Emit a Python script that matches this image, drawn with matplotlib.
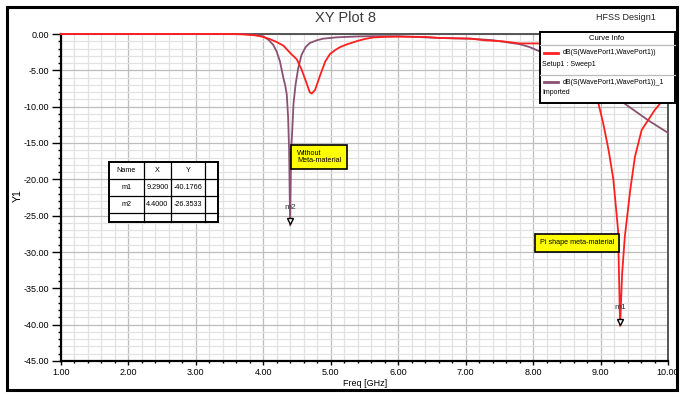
import matplotlib
matplotlib.use('Agg')
import matplotlib.pyplot as plt
from matplotlib.patches import Rectangle
from matplotlib.lines import Line2D
from matplotlib.ticker import MultipleLocator

plt.rcParams['font.family'] = ['Liberation Sans Narrow', 'Liberation Sans', 'DejaVu Sans']

# ---------------- data ----------------
red_freq = [1.0, 2.0, 3.0, 3.5, 3.7, 3.9, 4.0, 4.1, 4.2, 4.3, 4.4, 4.5, 4.57, 4.63,
            4.69, 4.72, 4.77, 4.84, 4.92, 4.99, 5.07, 5.14, 5.22, 5.3, 5.4, 5.5,
            5.63, 5.8, 6.0, 6.4, 6.62, 7.07, 7.29, 7.54, 7.8, 8.1, 8.4, 8.65, 8.82,
            8.97, 9.04, 9.12, 9.19, 9.26, 9.29, 9.32, 9.36, 9.44, 9.51, 9.61, 9.71,
            9.8, 9.88, 9.95, 10.0]
red_db = [0.0, 0.0, 0.0, 0.0, -0.05, -0.2, -0.4, -0.7, -1.1, -1.6, -2.6, -3.5, -4.9, -6.4,
          -8.0, -8.2, -7.7, -5.8, -3.8, -2.75, -2.2, -1.8, -1.5, -1.25, -0.95, -0.7,
          -0.48, -0.4, -0.37, -0.4, -0.55, -0.64, -0.87, -1.0, -1.3, -1.3, -1.9, -3.2, -5.5,
          -9.6, -12.3, -16.0, -20.0, -27.0, -40.18, -33.0, -27.9, -21.5, -16.9, -13.2, -11.8,
          -10.5, -9.6, -8.8, -8.3]

pur_freq = [1.0, 3.0, 3.7, 3.85, 4.0, 4.08, 4.15, 4.2, 4.25, 4.3, 4.33, 4.35, 4.37,
            4.385, 4.40, 4.415, 4.43, 4.45, 4.48, 4.52, 4.57, 4.63, 4.69, 4.8, 4.89,
            5.09, 5.39, 5.63, 6.0, 6.62, 7.07, 7.4, 7.8, 7.95, 8.1, 8.3, 8.6, 8.9, 9.1,
            9.36, 9.71, 10.0]
pur_db = [0.0, 0.0, 0.0, -0.1, -0.32, -0.8, -1.5, -2.4, -3.8, -6.05, -7.2, -8.3, -11.4,
          -16.0, -26.35, -16.0, -13.6, -9.6, -7.0, -4.7, -2.85, -1.8, -1.24, -0.85, -0.64,
          -0.46, -0.34, -0.3, -0.3, -0.55, -0.64, -0.85, -1.4, -1.8, -2.4, -3.0, -4.6, -6.6,
          -8.0, -9.6, -11.9, -13.6]

x_ticks = [1, 2, 3, 4, 5, 6, 7, 8, 9, 10]
x_labels = ['1.00', '2.00', '3.00', '4.00', '5.00', '6.00', '7.00', '8.00', '9.00', '10.00']
y_ticks = [0, -5, -10, -15, -20, -25, -30, -35, -40, -45]
y_labels = ['0.00', '-5.00', '-10.00', '-15.00', '-20.00', '-25.00', '-30.00', '-35.00',
            '-40.00', '-45.00']

marker_names = ['m1', 'm2']
marker_x = [9.29, 4.40]
marker_y = [-40.1766, -26.3533]
marker_x_txt = ['9.2900', '4.4000']
marker_y_txt = ['-40.1766', '-26.3533']

legend_names = ['dB(S(WavePort1,WavePort1))', 'dB(S(WavePort1,WavePort1))_1']
legend_subs = ['Setup1 : Sweep1', 'Imported']

RED = '#ff1f1f'
PUR = '#8a5272'

W, H = 681, 394
def fx(p): return p / W
def fy(p): return 1 - p / H

fig = plt.figure(figsize=(6.81, 3.94), dpi=100)
fig.patch.set_facecolor('white')

ax = fig.add_axes([fx(60.7), fy(361), fx(668) - fx(60.7), fy(34) - fy(361)])
ax.set_xlim(1, 10)
ax.set_ylim(-45, 0)

ax.xaxis.set_minor_locator(MultipleLocator(0.2))
ax.yaxis.set_minor_locator(MultipleLocator(1))
ax.set_xticks(x_ticks)
ax.set_xticklabels(x_labels)
ax.set_yticks(y_ticks)
ax.set_yticklabels(y_labels)
ax.grid(which='major', color='#bdbdbd', lw=0.9)
ax.grid(which='minor', color='#e2e2e2', lw=0.9)
ax.set_axisbelow(True)

ax.tick_params(axis='y', which='major', length=6.5, width=1, direction='out', labelsize=6.5, pad=2)
ax.tick_params(axis='y', which='minor', length=2.5, width=1, direction='out')
ax.tick_params(axis='x', which='major', length=3, width=1, direction='out', labelsize=6.5, pad=2)
ax.tick_params(axis='x', which='minor', length=1.5, width=1, direction='out')

for s in ['left', 'bottom']:
    ax.spines[s].set_linewidth(1.6)
    ax.spines[s].set_color('black')
for s in ['top', 'right']:
    ax.spines[s].set_linewidth(1.4)
    ax.spines[s].set_color('#555555')

ax.plot(red_freq, red_db, color=RED, lw=1.3, clip_on=False, zorder=5)
ax.plot(pur_freq, pur_db, color=PUR, lw=1.3, clip_on=False, zorder=4)

# markers
for n, mx, my in zip(marker_names, marker_x, marker_y):
    ax.plot([mx], [my + 0.6], marker='v', ms=4.5, mfc='white', mec='black', mew=1.0,
            zorder=6, clip_on=False)
    ax.text(mx, my + 2.0, n, fontsize=6, ha='center', va='bottom', color='#333333',
            zorder=7)

# title texts
fig.text(fx(345), fy(18), 'XY Plot 8', ha='center', va='center', fontsize=10.5, color='#3a3a3a')
fig.text(fx(656), fy(18), 'HFSS Design1', ha='right', va='center', fontsize=6.5, color='#222222')
fig.text(fx(18), fy(196), 'Y1', rotation=90, ha='center', va='center', fontsize=7.5)
fig.text(fx(365), fy(383), 'Freq [GHz]', ha='center', va='center', fontsize=6.5)

# outer frame
fig.add_artist(Rectangle((fx(7), fy(390)), fx(677) - fx(7), fy(7) - fy(390),
                         transform=fig.transFigure, fill=False, lw=2.2, ec='black'))

# marker table
tx = [109, 144, 171, 205, 218]
ty = [162, 179, 196, 213, 222]
fig.add_artist(Rectangle((fx(tx[0]), fy(ty[-1])), fx(tx[-1]) - fx(tx[0]), fy(ty[0]) - fy(ty[-1]),
                         transform=fig.transFigure, fc='white', ec='black', lw=1.4, zorder=3))
for x in tx[1:-1]:
    fig.add_artist(Line2D([fx(x), fx(x)], [fy(ty[0]), fy(ty[-1])], transform=fig.transFigure,
                          color='black', lw=0.9, zorder=4))
for y in ty[1:-1]:
    fig.add_artist(Line2D([fx(tx[0]), fx(tx[-1])], [fy(y), fy(y)], transform=fig.transFigure,
                          color='black', lw=0.9, zorder=4))
rows = [['Name', 'X', 'Y']] + [[n, a, b] for n, a, b in zip(marker_names, marker_x_txt, marker_y_txt)]
for r, row in enumerate(rows):
    cy = (ty[r] + ty[r + 1]) / 2
    for c, val in enumerate(row):
        cx = (tx[c] + tx[c + 1]) / 2
        fig.text(fx(cx), fy(cy), val, ha='center', va='center', fontsize=5.2, zorder=5)

# legend box
fig.add_artist(Rectangle((fx(540), fy(103)), fx(675) - fx(540), fy(32) - fy(103),
                         transform=fig.transFigure, fc='white', ec='black', lw=1.4, zorder=3))
for y in [45, 75]:
    fig.add_artist(Line2D([fx(540), fx(675)], [fy(y), fy(y)], transform=fig.transFigure,
                          color='#bbbbbb', lw=0.9, zorder=4))
fig.text(fx(607), fy(38.5), 'Curve Info', ha='center', va='center', fontsize=5.5, zorder=5)
for i, (nm, sub, col) in enumerate(zip(legend_names, legend_subs, [RED, PUR])):
    yl = 53 + i * 29
    fig.add_artist(Line2D([fx(544), fx(558)], [fy(yl), fy(yl)], transform=fig.transFigure,
                          color=col, lw=2, zorder=5))
    fig.text(fx(563), fy(yl), nm, ha='left', va='center', fontsize=5.0, zorder=5)
    fig.text(fx(542), fy(yl + 11), sub, ha='left', va='center', fontsize=5.0, zorder=5)

# annotation boxes
fig.text(fx(297), fy(157), 'Without\nMeta-material', ha='left', va='center', fontsize=5.2,
         linespacing=0.85, zorder=5,
         bbox=dict(boxstyle='square,pad=0.8', fc='#ffff00', ec='black', lw=1.2))
fig.text(fx(577), fy(243), 'Pi shape meta-material', ha='center', va='center', fontsize=5.2,
         zorder=5, bbox=dict(boxstyle='square,pad=0.7', fc='#ffff00', ec='black', lw=1.2))

fig.savefig('out.png', dpi=100)
